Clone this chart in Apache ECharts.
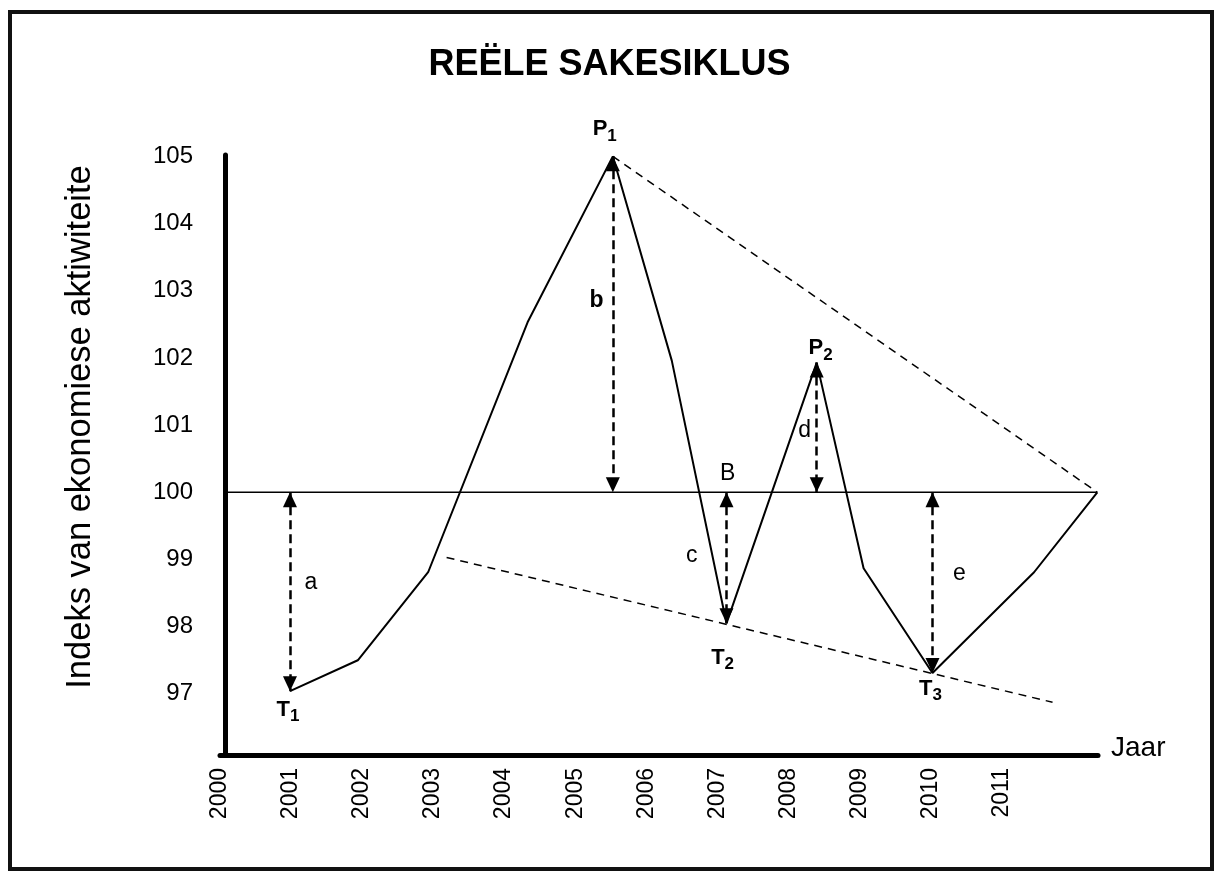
<!DOCTYPE html>
<html>
<head>
<meta charset="utf-8">
<script src="https://cdn.jsdelivr.net/npm/echarts@6/dist/echarts.min.js"></script>
<style>
  html, body { margin: 0; padding: 0; background: #fff; }
  #chart { width: 1219px; height: 876px; }
</style>
</head>
<body>
<div id="chart"></div>
<script>
// tick labels
var years = [2000, 2001, 2002, 2003, 2004, 2005, 2006, 2007, 2008, 2009, 2010, 2011];
var yTicks = [97, 98, 99, 100, 101, 102, 103, 104, 105];

// the business cycle itself
var cycleX = [2000.985, 2001.94, 2002.93, 2004.33, 2005.53, 2006.36, 2007.13, 2008.40, 2009.06, 2010.03, 2011.46, 2012.35];
var cycleY = [97.04, 97.50, 98.81, 102.53, 105.0, 101.96, 98.05, 101.93, 98.87, 97.31, 98.81, 100.0];

// trend line at 100
var baseX = [2000.07, 2012.35];
var baseY = [100, 100];

// dashed lines through the peaks and the troughs
var peakLineX = [2005.53, 2012.35];
var peakLineY = [105.0, 100.0];
var troughLineX = [2003.19, 2011.72];
var troughLineY = [99.03, 96.875];

// double headed dashed arrows (a, b, B, d, e)
var arrowX = [2000.985, 2005.53, 2007.13, 2008.40, 2010.03];
var arrowFrom = [100, 105.0, 100, 101.93, 100];
var arrowTo = [97.04, 100, 98.05, 100, 97.31];

// letters next to the arrows
var letters = ['a', 'b', 'c', 'B', 'd', 'e'];
var letterX = [2001.28, 2005.30, 2006.64, 2007.146, 2008.229, 2010.41];
var letterY = [98.65, 102.857, 99.06, 100.283, 100.923, 98.795];

// peak / trough names
var points = ['T1', 'P1', 'T2', 'P2', 'T3'];
var pointX = [2000.957, 2005.416, 2007.075, 2008.454, 2010.001];
var pointY = [96.726, 105.372, 97.5, 102.113, 97.04];

var FONT = '"Liberation Sans", Arial, sans-serif';

function zip(xs, ys) {
  return xs.map(function (x, i) { return [x, ys[i]]; });
}

var chart = echarts.init(document.getElementById('chart'));

var option = {
  backgroundColor: '#fff',
  animation: false,
  textStyle: { fontFamily: FONT, color: '#000' },
  title: {
    text: 'REËLE SAKESIKLUS',
    left: 'center',
    top: 42,
    textStyle: { fontFamily: FONT, fontSize: 36, fontWeight: 'bold', color: '#000' }
  },
  graphic: [{
    type: 'rect',
    shape: { x: 10, y: 12, width: 1202, height: 857 },
    style: { fill: 'none', stroke: '#111', lineWidth: 4 },
    silent: true
  }],
  grid: { left: 220, top: 155, right: 121, bottom: 121 },
  xAxis: {
    type: 'value',
    min: 2000,
    max: 2012.36,
    name: 'Jaar',
    nameLocation: 'end',
    nameGap: 13,
    nameTextStyle: { fontFamily: FONT, fontSize: 28, color: '#000', verticalAlign: 'bottom', lineHeight: 14 },
    splitLine: { show: false },
    axisTick: { show: false },
    axisLine: { lineStyle: { color: '#000', width: 5 } },
    axisLabel: {
      customValues: years,
      rotate: 90,
      margin: 13,
      fontSize: 23,
      fontFamily: FONT,
      color: '#000',
      formatter: function (v) { return String(Math.round(v)); }
    }
  },
  yAxis: {
    type: 'value',
    min: 96.09,
    max: 105.02,
    offset: -5,
    name: 'Indeks van ekonomiese aktiwiteite',
    nameLocation: 'middle',
    nameGap: 127,
    nameTextStyle: { fontFamily: FONT, fontSize: 34.5, color: '#000', padding: [0, 0, 0, 56] },
    splitLine: { show: false },
    axisTick: { show: false },
    axisLine: { show: true, lineStyle: { color: '#000', width: 5 } },
    axisLabel: {
      customValues: yTicks,
      margin: 32,
      fontSize: 24,
      fontFamily: FONT,
      color: '#000'
    }
  },
  series: [
    {
      type: 'line',
      data: zip(baseX, baseY),
      symbol: 'none',
      clip: false,
      lineStyle: { color: '#000', width: 1.5 },
      markLine: {
        silent: true,
        symbol: ['triangle', 'triangle'],
        symbolSize: [14, 15],
        symbolOffset: [[0, 7.5], [0, 7.5]],
        label: { show: false },
        lineStyle: { color: '#000', width: 2.5, type: [9, 5] },
        data: arrowX.map(function (x, i) {
          return [{ coord: [x, arrowFrom[i]] }, { coord: [x, arrowTo[i]] }];
        })
      }
    },
    {
      type: 'line',
      data: zip(cycleX, cycleY),
      symbol: 'none',
      clip: false,
      lineStyle: { color: '#000', width: 2 }
    },
    {
      type: 'line',
      data: zip(peakLineX, peakLineY),
      symbol: 'none',
      clip: false,
      lineStyle: { color: '#000', width: 1.5, type: [8, 6] }
    },
    {
      type: 'line',
      data: zip(troughLineX, troughLineY),
      symbol: 'none',
      clip: false,
      lineStyle: { color: '#000', width: 1.5, type: [8, 6] }
    },
    {
      type: 'scatter',
      symbolSize: 0,
      silent: true,
      clip: false,
      itemStyle: { opacity: 1 },
      data: letters.map(function (n, i) {
        return { name: n, value: [letterX[i], letterY[i]] };
      }),
      label: {
        show: true,
        position: 'inside',
        fontFamily: FONT,
        fontSize: 23,
        color: '#000',
        opacity: 1,
        formatter: function (p) {
          return p.name === 'b' ? '{bold|b}' : p.name;
        },
        rich: { bold: { fontFamily: FONT, fontSize: 23, fontWeight: 'bold', color: '#000' } }
      }
    },
    {
      type: 'scatter',
      symbolSize: 0,
      silent: true,
      clip: false,
      itemStyle: { opacity: 1 },
      data: points.map(function (n, i) {
        return { name: n, value: [pointX[i], pointY[i]] };
      }),
      label: {
        show: true,
        position: 'inside',
        opacity: 1,
        formatter: function (p) {
          return '{m|' + p.name.charAt(0) + '}{s|' + p.name.slice(1) + '}';
        },
        rich: {
          m: { fontFamily: FONT, fontSize: 22, fontWeight: 'bold', color: '#000', lineHeight: 26, verticalAlign: 'top' },
          s: { fontFamily: FONT, fontSize: 17, fontWeight: 'bold', color: '#000', lineHeight: 26, verticalAlign: 'bottom' }
        }
      }
    }
  ]
};

chart.setOption(option);
</script>
</body>
</html>
